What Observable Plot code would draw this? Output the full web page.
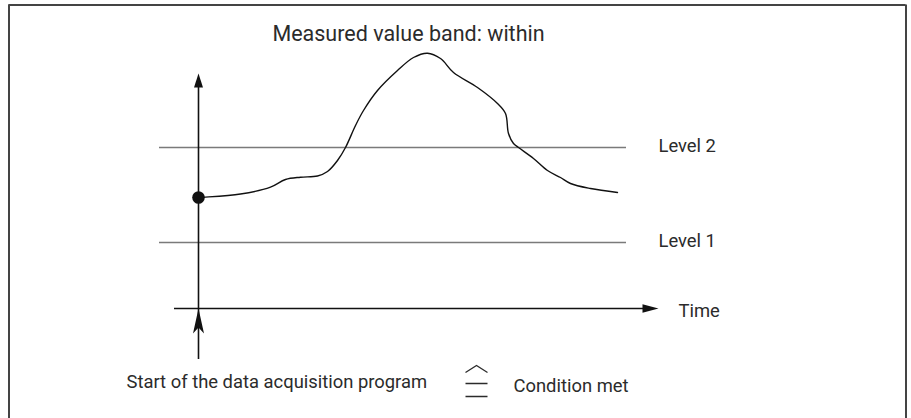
<!DOCTYPE html>
<html>
<head>
<meta charset="utf-8">
<script src="https://cdn.jsdelivr.net/npm/d3@7"></script>
<script src="https://cdn.jsdelivr.net/npm/@observablehq/plot@0.6"></script>
<style>
  html, body { margin: 0; padding: 0; background: #fff; }
  svg { display: block; }
</style>
</head>
<body>
<div id="chart"></div>
<script>
// ---- data (time units on x, measured value on y) ----
const curveTime  = [0, 0.5, 4.2, 7.2, 8.7, 10.2, 11.9, 12.9, 13.9, 14.7, 15.7, 16.5, 17.9, 19.9, 21.5, 22.9, 24.2, 25.5, 27.9, 29.9, 30.7, 31.0, 31.5, 32.0, 33.5, 34.9, 36.2, 37.2, 39.2, 41.9];
const curveValue = [11.1, 11.13, 11.45, 12.13, 12.9, 13.13, 13.25, 13.7, 14.8, 16.1, 18.3, 19.8, 21.8, 23.8, 25.1, 25.53, 25.0, 23.6, 22.1, 20.5, 19.5, 17.5, 16.5, 16.1, 15.0, 13.8, 13.1, 12.5, 12.0, 11.6];
const levelNames  = ["Level 1", "Level 2"];
const levelValues = [6.6, 16.1];
const startTime = 0;
const startValue = 11.1;
const titleText = "Measured value band: within";
const timeLabel = "Time";
const startLabel = "Start of the data acquisition program";
const conditionLabel = "Condition met";

// ---- layout (in data units) ----
const X = {min: -19.8, max: 71.3};
const Y = {min: -11, max: 30.8};

const curve = curveTime.map((t, i) => ({t, v: curveValue[i]}));
const levels = levelNames.map((name, i) => ({name, v: levelValues[i]}));

// custom symbols (anchor at the tip / centre)
const headUp = {draw(c) { c.moveTo(0, 0); c.lineTo(4.5, 14); c.lineTo(-4.5, 14); c.closePath(); }};
const headRight = {draw(c) { c.moveTo(0, 0); c.lineTo(-16, 4.2); c.lineTo(-16, -4.2); c.closePath(); }};
const headBarb = {draw(c) { c.moveTo(0, 0); c.lineTo(5.5, 25); c.lineTo(0, 19); c.lineTo(-5.5, 25); c.closePath(); }};
// "corresponds to" sign: wide hat over an equals sign
const correspondsSign = {draw(c) {
  c.moveTo(-11, -9); c.lineTo(0, -16); c.lineTo(11, -9);
  c.moveTo(-11, 2); c.lineTo(11, 2);
  c.moveTo(-11, 15); c.lineTo(11, 15);
}};

const font = "Roboto, 'Noto Sans', sans-serif";
const ink = "#2b2b2b";
const fs = 18.4;

const chart = Plot.plot({
  width: 911,
  height: 418,
  margin: 0,
  x: {domain: [X.min, X.max], axis: null},
  y: {domain: [Y.min, Y.max], axis: null},
  style: {fontFamily: font, background: "#fff"},
  marks: [
    // frame (left, top, right)
    Plot.ruleX([-18.95, 70.75], {y1: Y.min, y2: 30.35, stroke: "#444", strokeWidth: 2}),
    Plot.ruleY([30.35], {x1: -18.95, x2: 70.75, stroke: "#444", strokeWidth: 2}),
    // level lines
    Plot.ruleY(levels, {y: "v", x1: -3.9, x2: 42.8, stroke: "#7a7a7a", strokeWidth: 1.5}),
    // axes
    Plot.ruleX([startTime], {y1: -5.1, y2: 22.6, stroke: "#111", strokeWidth: 1.6}),
    Plot.ruleY([0], {x1: -2.4, x2: 45, stroke: "#111", strokeWidth: 1.6}),
    Plot.dot([{t: startTime, v: 23.5}], {x: "t", y: "v", symbol: headUp, fill: "#111", stroke: null}),
    Plot.dot([{t: 46, v: 0}], {x: "t", y: "v", symbol: headRight, fill: "#111", stroke: null}),
    Plot.dot([{t: startTime, v: 0}], {x: "t", y: "v", symbol: headBarb, fill: "#111", stroke: null}),
    // measured curve
    Plot.line(curve, {x: "t", y: "v", curve: "catmull-rom", stroke: "#111", strokeWidth: 1.4}),
    Plot.dot([{t: startTime, v: startValue}], {x: "t", y: "v", r: 6.3, fill: "#111", stroke: null}),
    // texts
    Plot.text([titleText], {x: 21, y: 27.45, text: d => d, fontSize: 21.5, fill: ink, textAnchor: "middle"}),
    Plot.text(levels, {x: 46, y: d => d.v + 0.1, text: "name", fontSize: fs, fill: ink, textAnchor: "start"}),
    Plot.text([timeLabel], {x: 48, y: -0.3, text: d => d, fontSize: fs, fill: ink, textAnchor: "start"}),
    Plot.text([startLabel], {x: -7.2, y: -7.4, text: d => d, fontSize: fs, fill: ink, textAnchor: "start"}),
    Plot.dot([{t: 27.8, v: -7.3}], {x: "t", y: "v", symbol: correspondsSign, fill: "none", stroke: ink, strokeWidth: 1.3}),
    Plot.text([conditionLabel], {x: 31.5, y: -7.8, text: d => d, fontSize: fs, fill: ink, textAnchor: "start"})
  ]
});
document.getElementById("chart").appendChild(chart);
</script>
</body>
</html>
